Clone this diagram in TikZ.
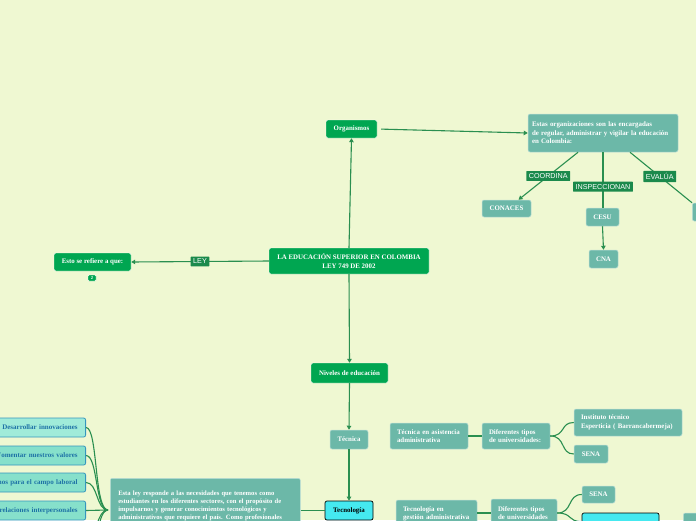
\documentclass[tikz,border=0pt]{standalone}
\usepackage{fontspec}
\setmainfont{Liberation Serif}
\setsansfont{Liberation Sans}
\usetikzlibrary{arrows.meta}
\definecolor{bgc}{HTML}{EFF8D2}
\definecolor{gfill}{HTML}{00A651}
\definecolor{tfill}{HTML}{6CB8A8}
\definecolor{lblc}{HTML}{1B8A4C}
\definecolor{linec}{HTML}{2A8F50}
\definecolor{cyanf}{HTML}{45E9F0}
\definecolor{lfill}{HTML}{86E0CB}
\definecolor{lfilla}{HTML}{A0EBD9}
\definecolor{lborder}{HTML}{3596BE}
\definecolor{ltext}{HTML}{1E72A6}
\tikzset{
  base/.style={rounded corners=2pt, font=\bfseries\fontsize{6.9}{8.5}\selectfont, text=white, inner sep=1pt, align=center},
  gnode/.style={base, fill=gfill, draw=white, line width=0.4pt},
  tnode/.style={base, fill=tfill, draw=white!55!tfill, line width=0.5pt},
  cnode/.style={base, fill=cyanf, draw=black, line width=0.7pt, text=black},
  lbl/.style={fill=lblc, text=white, font=\sffamily\fontsize{7.2}{8}\selectfont, inner xsep=2.5pt, inner ysep=2.4pt, rounded corners=0.5pt},
  conn/.style={draw=linec, line width=1.1pt},
  arr/.style={conn, -{Triangle[length=4pt,width=4.5pt]}},
  lst/.style={rounded corners=2pt, fill=lfill, draw=lborder, line width=0.8pt, text=ltext,
     font=\bfseries\fontsize{7}{8}\selectfont, align=right, minimum height=19, text width=90,
     inner xsep=8, anchor=east},
}
\begin{document}
\begin{tikzpicture}[x=1pt,y=-1pt]
\useasboundingbox (0,0) rectangle (696,520);
\fill[bgc] (0,0) rectangle (696,520);
\clip (0,0) rectangle (696,520);

% main nodes
\node[gnode, minimum width=51, minimum height=18] (org) at (351.5,129) {Organismos};
\node[tnode, minimum width=150, minimum height=38, text width=142, align=left, inner xsep=4] (estas) at (603,133)
  {Estas organizaciones son las encargadas\\de regular, administrar y vigilar la educación\\ en Colombia:};
\node[tnode, minimum width=49, minimum height=17] (conaces) at (506.5,208.5) {CONACES};
\node[tnode, minimum width=33, minimum height=18] (cesu) at (602.5,217) {CESU};
\node[tnode, minimum width=29, minimum height=18] (cna) at (603.5,259) {CNA};
\node[tnode, minimum width=24, minimum height=18, anchor=west] (rnode) at (692,212) {};
\node[gnode, minimum width=160, minimum height=26] (central) at (349,261)
  {LA EDUCACIÓN SUPERIOR EN COLOMBIA\\LEY 749 DE 2002};
\node[gnode, minimum width=77, minimum height=18] (esto) at (92.5,262) {Esto se refiere a que:};
\node[gnode, minimum width=8, minimum height=6, inner sep=0pt, rounded corners=1pt, font=\bfseries\fontsize{4.5}{5}\selectfont] (badge) at (92,278) {2};
\node[gnode, minimum width=77, minimum height=20] (niveles) at (349.5,373) {Niveles de educación};
\node[tnode, minimum width=38, minimum height=19] (tecnica) at (349,439.5) {Técnica};
\node[tnode, minimum width=78, minimum height=26, text width=64, align=left, inner xsep=6] (tasist) at (429,436)
  {Técnica en asistencia\\administrativa};
\node[tnode, minimum width=68, minimum height=26, text width=54, align=left, inner xsep=4] (dif1) at (516,436)
  {Diferentes tipos\\de universidades:};
\node[tnode, minimum width=108, minimum height=27, text width=94, align=left, inner xsep=4] (inst) at (628,422.5)
  {Instituto técnico\\Esperticia ( Barrancabermeja)};
\node[tnode, minimum width=34, minimum height=18] (sena1) at (591,454) {SENA};
\node[cnode, minimum width=48, minimum height=19] (tecno) at (349,510.5) {Tecnología};
\node[tnode, minimum width=81, minimum height=28, text width=67, align=left, inner xsep=3.5] (tgest) at (436.5,514)
  {Tecnología en\\gestión administrativa};
\node[tnode, minimum width=66, minimum height=28, text width=52, align=left, inner xsep=3] (dif2) at (524,513)
  {Diferentes tipos\\de universidades};
\node[tnode, minimum width=33, minimum height=17] (sena2) at (598.5,494.5) {SENA};
\node[cnode, minimum width=77, minimum height=17] (cyanbox) at (620.5,521.5) {};
\node[tnode, minimum width=30, minimum height=17, anchor=west] (farright) at (683,521.5) {};
\node[tnode, anchor=north west, text width=174, align=left, inner xsep=5, inner ysep=3,
  font=\bfseries\fontsize{6.6}{8.1}\selectfont, minimum width=190, minimum height=64] (longtxt) at (110,478)
  {Esta ley responde a las necesidades que tenemos como\\estudiantes en los diferentes sectores, con el propósito de\\impulsarnos y generar conocimientos tecnológicos y\\administrativos que requiere el país. Como profesionales\\desarrollaríamos diferentes habilidades gracias a las};

% list boxes
\node[lst, fill=lfilla] (l1) at (86,427.5) {Desarrollar innovaciones};
\node[lst] (l2) at (86,455.5) {Fomentar nuestros valores};
\node[lst] (l3) at (86,482.5) {nos para el campo laboral};
\node[lst] (l4) at (86,510.5) {relaciones interpersonales};
\coordinate (j) at (108,510);
\coordinate (b1) at (86,538);
\coordinate (b2) at (86,566);

% connectors
\draw[arr] (central.north) -- (org.south);
\draw[arr, shorten <=4pt] (org.east) -- (estas.west);
\draw[arr] (central.west) -- node[lbl] (ley) {LEY} (esto.east);
\draw[arr] (central.south) -- (niveles.north);
\draw[arr] (niveles.south) -- (tecnica.north);
\draw[arr] (tecnica.south) -- (tecno.north);

\draw[arr] ([xshift=-25]estas.south) -- node[lbl] (coord) {COORDINA} ([xshift=12]conaces.north);
\draw[conn] (estas.south) -- node[lbl, pos=0.62] (insp) {INSPECCIONAN} (estas.south |- cesu.north);
\draw[conn] ([xshift=27]estas.south) -- node[lbl, pos=0.48] (eval) {EVALÚA} (rnode.north west);
\draw[arr] (cesu.south) -- (cna.north);

\draw[conn] (tasist.east) -- (dif1.west);
\draw[conn] (dif1.east) .. controls (566,436) and (560,422.5) .. (inst.west);
\draw[conn] (dif1.east) .. controls (566,436) and (560,454) .. (sena1.west);
\draw[conn] (tgest.east |- dif2.west) -- (dif2.west);
\draw[conn] (dif2.east) .. controls (573,513) and (567,494.5) .. (sena2.west);
\draw[conn] (dif2.east) .. controls (573,513) and (567,521.5) .. (cyanbox.west);
\draw[conn] (longtxt.east |- tecno.west) -- (tecno.west);

\draw[conn] (l1.east) .. controls (98,427.5) and (94,510) .. (j);
\draw[conn] (l2.east) .. controls (98,455.5) and (95,510) .. (j);
\draw[conn] (l3.east) .. controls (98,482.5) and (96,510) .. (j);
\draw[conn] (b1) .. controls (98,538) and (96,510) .. (j);
\draw[conn] (b2) .. controls (98,566) and (95,510) .. (j);
\draw[arr] (l4.east) -- (j);
\end{tikzpicture}
\end{document}
